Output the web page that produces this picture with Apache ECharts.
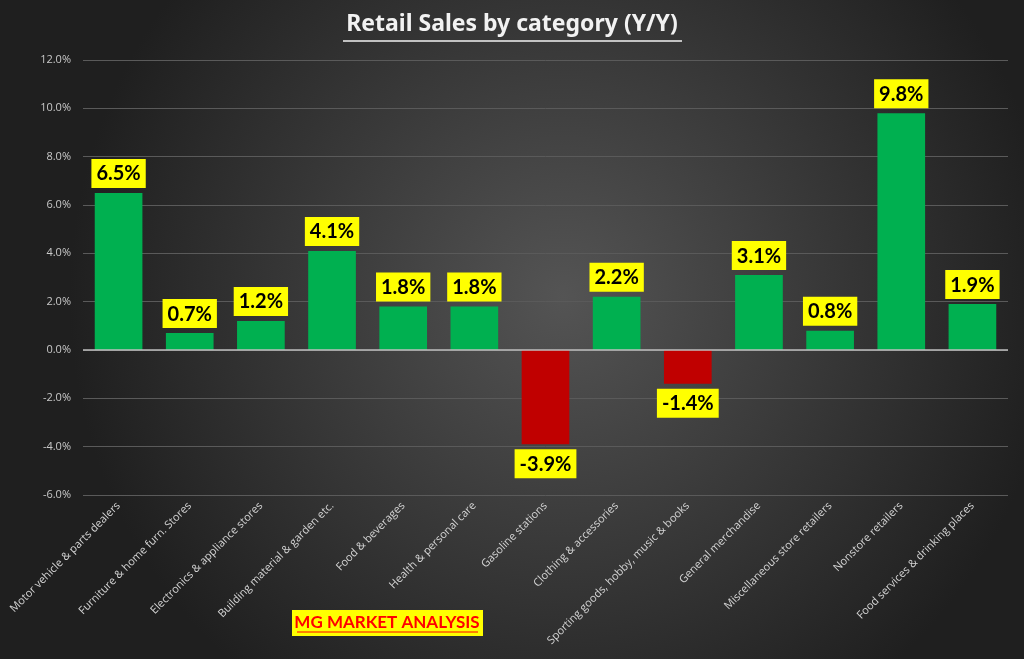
<!DOCTYPE html>
<html><head><meta charset="utf-8">
<script src="https://cdn.jsdelivr.net/npm/echarts@6/dist/echarts.min.js"></script>
<style>html,body{margin:0;padding:0;background:#333}#c{width:1024px;height:659px}</style>
</head><body><div id="c"></div>
<script>
const categories = ["Motor vehicle & parts dealers","Furniture & home furn. Stores","Electronics & appliance stores","Building material & garden etc.","Food & beverages","Health & personal care","Gasoline stations","Clothing & accessories","Sporting goods, hobby, music & books","General merchandise","Miscellaneous store retailers","Nonstore retailers","Food services & drinking places"];
const values = [6.5,0.7,1.2,4.1,1.8,1.8,-3.9,2.2,-1.4,3.1,0.8,9.8,1.9];
const yMin = -6, yMax = 12, yStep = 2;
const titleText = "Retail Sales by category (Y/Y)";
const watermark = "MG MARKET ANALYSIS";

const chart = echarts.init(document.getElementById('c'));
chart.setOption({
  backgroundColor: {type:'radial', x:0.55, y:0.45, r:0.75, colorStops:[{offset:0,color:'#545454'},{offset:1,color:'#1f1f1f'}]},
  animation:false,
  title:{text:titleText, left:'center', top:8, textStyle:{color:'#f2f2f2', fontFamily:'Noto Sans', fontWeight:'bold', fontSize:23}},
  grid:{left:83, right:16, top:60, bottom:164},
  xAxis:{type:'category', data:categories, axisLine:{show:false}, axisTick:{show:false},
    axisLabel:{rotate:45, interval:0, color:'#d4d4d4', fontFamily:'Open Sans', fontSize:11, margin:9}},
  yAxis:{type:'value', min:yMin, max:yMax, interval:yStep,
    axisLabel:{color:'#c8c8c8', fontFamily:'Open Sans', fontSize:11, margin:12, formatter:v=>v.toFixed(1)+'%'},
    splitLine:{lineStyle:{color:'#5a5a5a', width:1}}, axisLine:{show:false}, axisTick:{show:false}},
  series:[{type:'bar', barWidth:'67%',
    data: values.map(v=>({value:v, itemStyle:{color: v<0?'#c00000':'#00b050'},
      label:{position: v<0?'bottom':'top'}})),
    label:{show:true, distance:5, formatter:p=>p.value.toFixed(1)+'%', color:'#000', backgroundColor:'#ffff00',
      fontFamily:'Lato', fontWeight:'bold', fontSize:20, padding:[5,5,4,5]},
    markLine:{silent:true, symbol:'none', label:{show:false}, lineStyle:{color:'#bfbfbf', type:'solid', width:1.5}, data:[{yAxis:0}]}
  }],
  graphic:[
    {type:'line', shape:{x1:343,y1:41,x2:682,y2:41}, style:{stroke:'#f2f2f2', lineWidth:1.5}},
    {type:'rect', shape:{x:292,y:610,width:191,height:26}, style:{fill:'#ffff00'}},
    {type:'text', x:387, y:623, style:{text:watermark, fill:'#ff0000', font:'bold 17px Lato', textAlign:'center', textVerticalAlign:'middle'}},
    {type:'line', shape:{x1:297,y1:632,x2:478,y2:632}, style:{stroke:'#ff0000', lineWidth:1}}
  ]
});
</script></body></html>
